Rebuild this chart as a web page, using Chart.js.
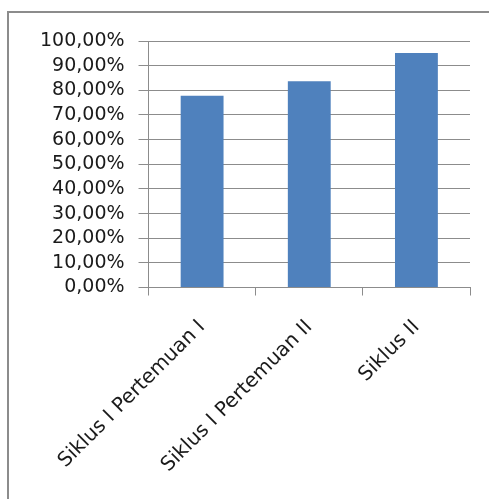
<!DOCTYPE html>
<html>
<head>
<meta charset="utf-8">
<script src="https://cdn.jsdelivr.net/npm/chart.js@4/dist/chart.umd.min.js"></script>
<style>
  html, body { margin: 0; padding: 0; background: #fff; overflow: hidden; }
  #frame {
    position: absolute; left: 7px; top: 11px; width: 600px; height: 600px;
    border-top: 2px solid #8c8c8c; border-left: 2px solid #8c8c8c;
  }
  #wrap { position: absolute; left: 0; top: 0; width: 489px; height: 499px; }
</style>
</head>
<body>
<div id="frame"></div>
<div id="wrap"><canvas id="bar"></canvas></div>
<script>
var categories = ['Siklus I Pertemuan I', 'Siklus I Pertemuan II', 'Siklus II'];
var nilai = [77.8, 83.7, 95.1];
var yTicks = [0, 10, 20, 30, 40, 50, 60, 70, 80, 90, 100];

var grafik = document.getElementById('bar').getContext('2d');

var myBarChart = new Chart(grafik, {
    type: 'bar',
    data: {
        labels: categories,
        datasets: [{
            data: nilai,
            backgroundColor: '#4f81bd',
            borderWidth: 0,
            barPercentage: 0.4,
            categoryPercentage: 1
        }]
    },
    options: {
        responsive: true,
        maintainAspectRatio: false,
        animation: false,
        layout: { padding: { left: 26, right: 19, top: 41, bottom: 2 } },
        plugins: {
            legend: { display: false },
            tooltip: { enabled: false }
        },
        scales: {
            x: {
                grid: { drawOnChartArea: false, offset: true, tickLength: 8, color: '#8c8c8c' },
                border: { color: '#8c8c8c' },
                ticks: {
                    color: '#1a1a1a',
                    font: { family: 'DejaVu Sans', size: 20 },
                    minRotation: 45,
                    maxRotation: 45,
                    padding: 20
                }
            },
            y: {
                min: 0,
                max: 100,
                afterBuildTicks: function (axis) {
                    axis.ticks = yTicks.map(function (v) { return { value: v }; });
                },
                grid: { color: '#8c8c8c', tickLength: 10 },
                border: { color: '#8c8c8c' },
                ticks: {
                    autoSkip: false,
                    color: '#1a1a1a',
                    font: { family: 'DejaVu Sans', size: 19 },
                    padding: 14,
                    callback: function (v) { return v.toFixed(2).replace('.', ',') + '%'; }
                }
            }
        }
    }
});
</script>
</body>
</html>
